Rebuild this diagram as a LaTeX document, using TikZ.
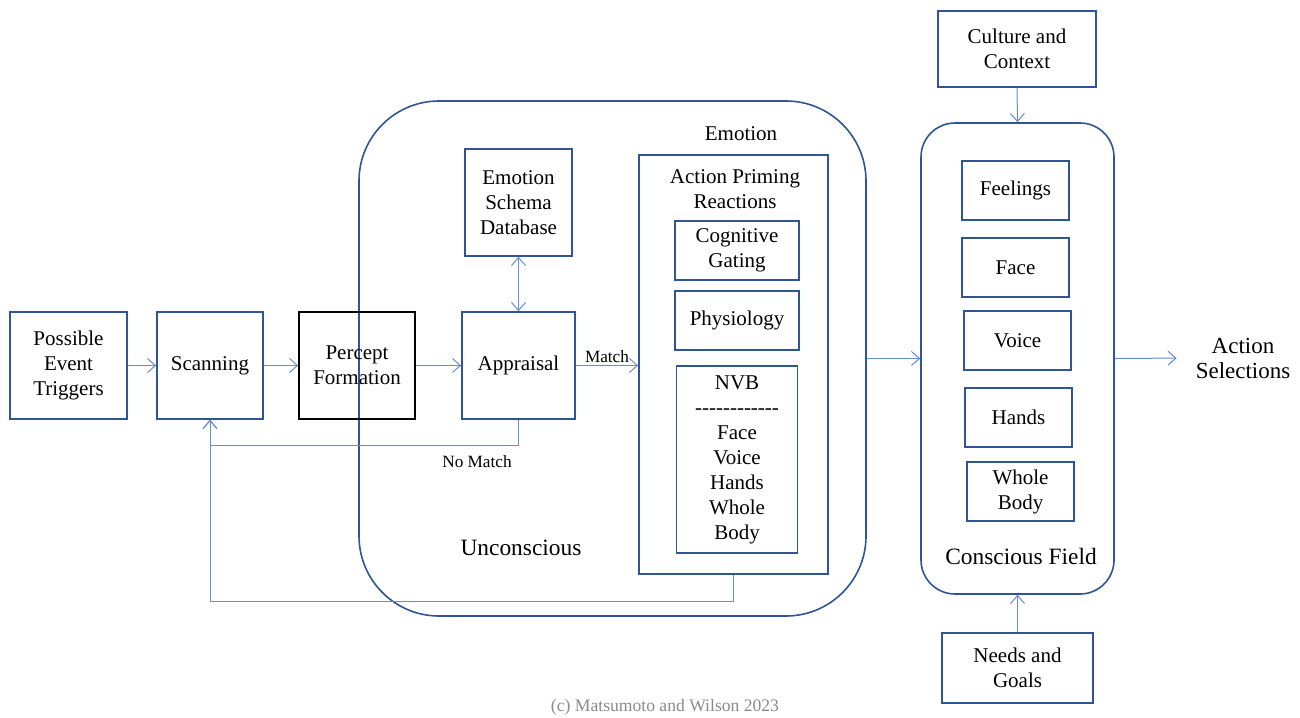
\documentclass[tikz,border=0pt]{standalone}
\usepackage{fontspec}
\setmainfont{Liberation Serif}
\usetikzlibrary{arrows.meta}
\usetikzlibrary{calc}
\usetikzlibrary{positioning}

\definecolor{boxblue}{RGB}{47,85,151}
\definecolor{lineblue}{RGB}{100,140,215}
\definecolor{creditgray}{RGB}{138,138,138}

\newcommand{\dashrow}{-\kern0pt-\kern0pt-\kern0pt-\kern0pt-\kern0pt-\kern0pt-\kern0pt-\kern0pt-\kern0pt-\kern0pt-\kern0pt-}

\begin{document}
\begin{tikzpicture}[
  x=0.5pt, y=-0.5pt,
  every node/.style={font=\fontsize{10.5}{12.5}\selectfont},
	block/.style={
	draw=boxblue,
	line width=0.8pt,
	rectangle,
	align=center,
	inner sep=0pt,
	minimum width=53.5pt,
	minimum height=53.5pt},
	subblock/.style={
	block,
	minimum height=29.5pt},
	field/.style={
	draw=boxblue,
	line width=0.8pt,
	rectangle,
	inner sep=0pt},
	arrow1/.style={
	draw=lineblue,
	line width=0.5pt,
	-{Straight Barb[length=4pt, width=7pt]}
	},
	arrow2/.style={
	arrow1,
	{Straight Barb[length=4pt, width=7pt]}-{Straight Barb[length=4pt, width=7pt]}
	},
	label1/.style={
	font=\fontsize{8.6}{10}\selectfont,
	inner sep=1pt},
	label2/.style={
	align=center,
	font=\fontsize{11.7}{12.5}\selectfont}]

	\useasboundingbox (0,0) rectangle (1300,717);

	% Fields
	\node [field, rounded corners=40pt, minimum width=253.5pt, minimum height=257.5pt] at (612.5,358.5) (uncon) {};
	\node [field, rounded corners=17pt, minimum width=96.5pt, minimum height=235.5pt] at (1017.5,358.5) (consc) {};
	\node [field, minimum width=94.5pt, minimum height=209.5pt] at (733.5,364.5) (emo) {};

	% Main row
	\node [block, minimum width=58.5pt] at (68.5,365.5)     (trig)    {Possible\\Event\\Triggers};
	\node [block, minimum width=53pt, right=14.2pt of trig] (scan)    {Scanning};
	\node [block, draw=black, minimum width=58pt, right=17.2pt of scan] (percept) {Percept\\Formation};
	\node [block, minimum width=56.5pt, right=22.7pt of percept]        (appr)    {Appraisal};
	\node [block, above=27.2pt of appr]                      (schema)  {Emotion\\Schema\\Database};

	% Emotion
	\node at (741,134)                                       (emolabel) {Emotion};
	\node [align=center] at (735,189.5)                      (apr)     {Action Priming\\Reactions};
	\node [subblock, minimum width=62pt] at (737,250.5)      (cog)     {Cognitive\\Gating};
	\node [subblock, minimum width=62pt, below=4.7pt of cog] (phys)    {Physiology};
	\node [block, minimum width=60.5pt, minimum height=93.5pt, below=7.2pt of phys] (nvb) {NVB\\\dashrow\\Face\\Voice\\Hands\\Whole\\Body};
	\node [label2] at (521,548)                              (unconlabel) {Unconscious};

	% Conscious field
	\node [subblock] at (1015.5,190.5)                       (feel)    {Feelings};
	\node [subblock, below=8.2pt of feel]                    (face)    {Face};
	\node [subblock, below=6.2pt of face, xshift=1pt]        (voice)   {Voice};
	\node [subblock, below=8.2pt of voice, xshift=0.5pt]     (hands)   {Hands};
	\node [subblock, below=6.7pt of hands, xshift=1pt]       (whole)   {Whole\\Body};
	\node [label2] at (1021,556)                             (consclabel) {Conscious Field};

	\node [block, minimum width=79pt, minimum height=38pt] at (1017,49)       (cult)  {Culture and\\Context};
	\node [block, minimum width=75.5pt, minimum height=35pt] at (1017.5,668)  (needs) {Needs and\\Goals};
	\node [label2, font=\fontsize{11.5}{12.5}\selectfont] at (1243,358)       (act)   {Action\\Selections};

	\node [font=\fontsize{8.8}{10}\selectfont, text=creditgray] at (665,707) (credit) {(c) Matsumoto and Wilson 2023};

	% Connectors
	\draw[arrow1] (trig.east) -- (scan.west);
	\draw[arrow1] (scan.east) -- (percept.west);
	\draw[arrow1] (percept.east) -- (appr.west);
	\draw[arrow2] (appr.north) -- (schema.south);
	\draw[arrow1] (appr.east) -- node [label1, midway, above] (match) {Match} (appr.east -| emo.west);

	\draw[arrow1] (appr.south) -- ++(0,26) -| (scan.south);
	\node [label1] at (477,462) (nomatch) {No Match};
	\draw[arrow1] (emo.south) -- ++(0,27) -| (scan.south);

	\draw[arrow1] (uncon.east) -- (consc.west);
	\draw[arrow1, shorten >=6pt] (consc.east) -- (act.west);
	\draw[arrow1] (cult.south) -- (consc.north);
	\draw[arrow1] (needs.north) -- (consc.south);

\end{tikzpicture}
\end{document}
